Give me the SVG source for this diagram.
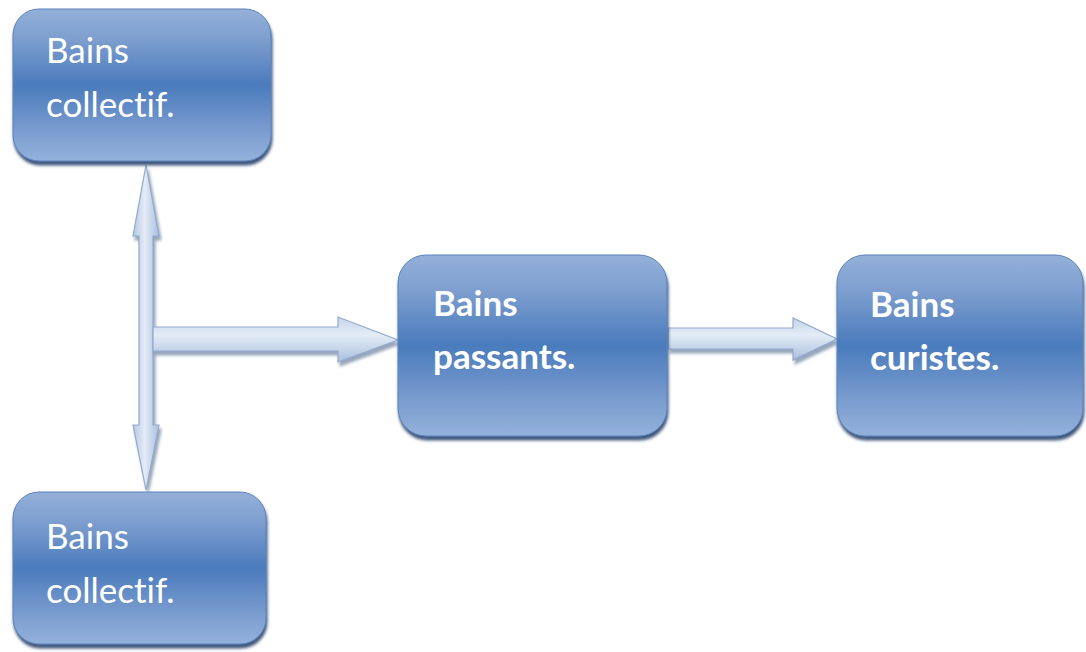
<svg xmlns="http://www.w3.org/2000/svg" width="1086" height="652" viewBox="0 0 1086 652">
<defs>
<linearGradient id="boxg" x1="0" y1="0" x2="0" y2="1">
<stop offset="0" stop-color="#94b0d9"/>
<stop offset="0.2" stop-color="#7d9ecf"/>
<stop offset="0.5" stop-color="#4a7bbc"/>
<stop offset="0.8" stop-color="#7a9ccf"/>
<stop offset="1" stop-color="#93b1da"/>
</linearGradient>
<linearGradient id="arrh" x1="0" y1="0" x2="0" y2="1">
<stop offset="0" stop-color="#c4d4ea"/>
<stop offset="0.4" stop-color="#e4ecf6"/>
<stop offset="1" stop-color="#a9bfdf"/>
</linearGradient>
<linearGradient id="arrv" x1="0" y1="0" x2="1" y2="0">
<stop offset="0" stop-color="#b3c7e3"/>
<stop offset="0.45" stop-color="#e4ecf6"/>
<stop offset="1" stop-color="#a9bfdf"/>
</linearGradient>
<filter id="bsh" x="-10%" y="-10%" width="125%" height="130%">
<feDropShadow dx="1" dy="4" stdDeviation="1.5" flood-color="#1f3a66" flood-opacity="0.85"/>
</filter>
<filter id="ash" x="-10%" y="-30%" width="125%" height="170%">
<feDropShadow dx="2" dy="4" stdDeviation="1.5" flood-color="#6b7f9c" flood-opacity="0.7"/>
</filter>
</defs>
<style>
.box{fill:url(#boxg);stroke:#5a83bb;stroke-width:1;filter:url(#bsh)}
.t{font-family:Lato,"Open Sans","Liberation Sans",sans-serif;font-size:35px;fill:#ffffff;font-variant-ligatures:none;font-feature-settings:"liga" 0}
.b{font-weight:bold}
.ah{fill:url(#arrh);stroke:#92aacd;stroke-width:1.2;filter:url(#ash)}
.av{fill:url(#arrv);stroke:#92aacd;stroke-width:1.2;filter:url(#ash)}
</style>
<rect width="1086" height="652" fill="#ffffff"/>
<g id="connectors">
<path class="av" d="M146 165 L159 236 L153 236 L153 425 L159 425 L146 490 L133 425 L139 425 L139 236 L133 236 Z"/>
<path class="ah" d="M153 327 L338 327 L338 317 L398 340 L338 362 L338 351 L153 351 Z"/>
<path class="ah" d="M668 328 L793 328 L793 318 L837 339 L793 360 L793 349 L668 349 Z"/>
</g>
<g id="node-collectif-top">
<rect class="box" x="13" y="9" width="258" height="152" rx="26"/>
<text class="t" x="46" y="63">Bains</text>
<text class="t" x="46" y="117">collectif.</text>
</g>
<g id="node-collectif-bottom">
<rect class="box" x="13" y="492" width="253" height="152" rx="26"/>
<text class="t" x="46" y="549">Bains</text>
<text class="t" x="46" y="603">collectif.</text>
</g>
<g id="node-passants">
<rect class="box" x="398" y="255" width="269" height="181" rx="28"/>
<text class="t b" x="433" y="316">Bains</text>
<text class="t b" x="433" y="369">passants.</text>
</g>
<g id="node-curistes">
<rect class="box" x="837" y="255" width="246" height="181" rx="28"/>
<text class="t b" x="870" y="317">Bains</text>
<text class="t b" x="870" y="370">curistes.</text>
</g>
</svg>
